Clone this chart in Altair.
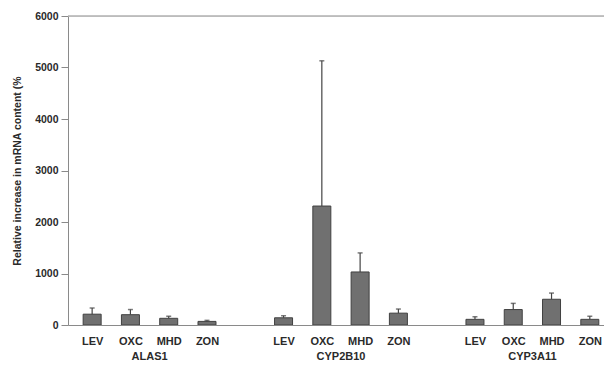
import altair as alt
import pandas as pd

genes = ["ALAS1", "CYP2B10", "CYP3A11"]
drugs = ["LEV", "OXC", "MHD", "ZON"]
means = [
    [210, 200, 130, 70],     # ALAS1
    [140, 2310, 1030, 230],  # CYP2B10
    [110, 300, 500, 110],    # CYP3A11
]
errors = [
    [120, 100, 40, 20],
    [40, 2820, 370, 80],
    [50, 120, 120, 60],
]
y_ticks = [0, 1000, 2000, 3000, 4000, 5000, 6000]

rows = []
for gi, g in enumerate(genes):
    for di, d in enumerate(drugs):
        m = means[gi][di]
        e = errors[gi][di]
        rows.append({"gene": g, "drug": d, "slot": gi * (len(drugs) + 1) + di,
                     "mean": m, "hi": m + e})
df = pd.DataFrame(rows)

grp = pd.DataFrame({"gene": genes,
                    "slot": [gi * (len(drugs) + 1) + (len(drugs) - 1) / 2 for gi in range(len(genes))]})

slot_labels = []
for gi in range(len(genes)):
    slot_labels += drugs + [""]
label_expr = "[" + ",".join("'%s'" % s for s in slot_labels) + "][datum.value]"
tick_vals = [i for i, s in enumerate(slot_labels) if s]

FONT = "Liberation Sans"
W, H = 536, 309
xscale = alt.Scale(domain=[-0.5, 13.24], nice=False, zero=False)
yscale = alt.Scale(domain=[0, 6000], nice=False)

base = alt.Chart(df)

bars = base.mark_bar(size=18, color="#707070", stroke="#404040", strokeWidth=1, clip=True).encode(
    x=alt.X("slot:Q", scale=xscale, axis=alt.Axis(
        values=tick_vals, labelExpr=label_expr, title=None, grid=False, ticks=False,
        domainColor="#8a8a8a", labelFont=FONT, labelFontSize=11, labelFontWeight="bold",
        labelColor="#2a2a2a", labelPadding=10, labelFlush=False)),
    y=alt.Y("mean:Q", scale=yscale, axis=alt.Axis(
        values=y_ticks, format="d", title="Relative increase in mRNA content (%", grid=False,
        tickSize=7, tickColor="#8a8a8a", domainColor="#8a8a8a",
        labelFont=FONT, labelFontSize=10.5, labelFontWeight="bold", labelColor="#2a2a2a",
        labelPadding=3, titleFont=FONT, titleFontSize=10.5, titleFontWeight="bold",
        titleColor="#2a2a2a", titlePadding=12)),
)

err = base.mark_rule(color="#444444", strokeWidth=1.2, clip=True).encode(
    x=alt.X("slot:Q", scale=xscale), y=alt.Y("mean:Q", scale=yscale), y2="hi:Q")

caps = base.mark_tick(orient="horizontal", size=5, thickness=1.5, color="#444444", clip=True).encode(
    x=alt.X("slot:Q", scale=xscale), y=alt.Y("hi:Q", scale=yscale))

top = alt.Chart(pd.DataFrame({"y": [6000]})).mark_rule(color="#b0b0b0", strokeWidth=1.5).encode(
    y=alt.Y("y:Q", scale=yscale))

glabels = alt.Chart(grp).mark_text(font=FONT, fontSize=11, fontWeight="bold", color="#2a2a2a",
                                   baseline="middle").encode(
    x=alt.X("slot:Q", scale=xscale), y=alt.value(H + 32), text="gene:N")

chart = alt.layer(top, bars, err, caps, glabels).properties(
    width=W, height=H,
    autosize=alt.AutoSizeParams(type="none"),
    padding={"left": 68, "top": 16, "right": 0, "bottom": 46},
).configure_view(stroke=None).configure(background="white")

chart.save("out.html", embed_options={"renderer": "svg", "actions": False})
